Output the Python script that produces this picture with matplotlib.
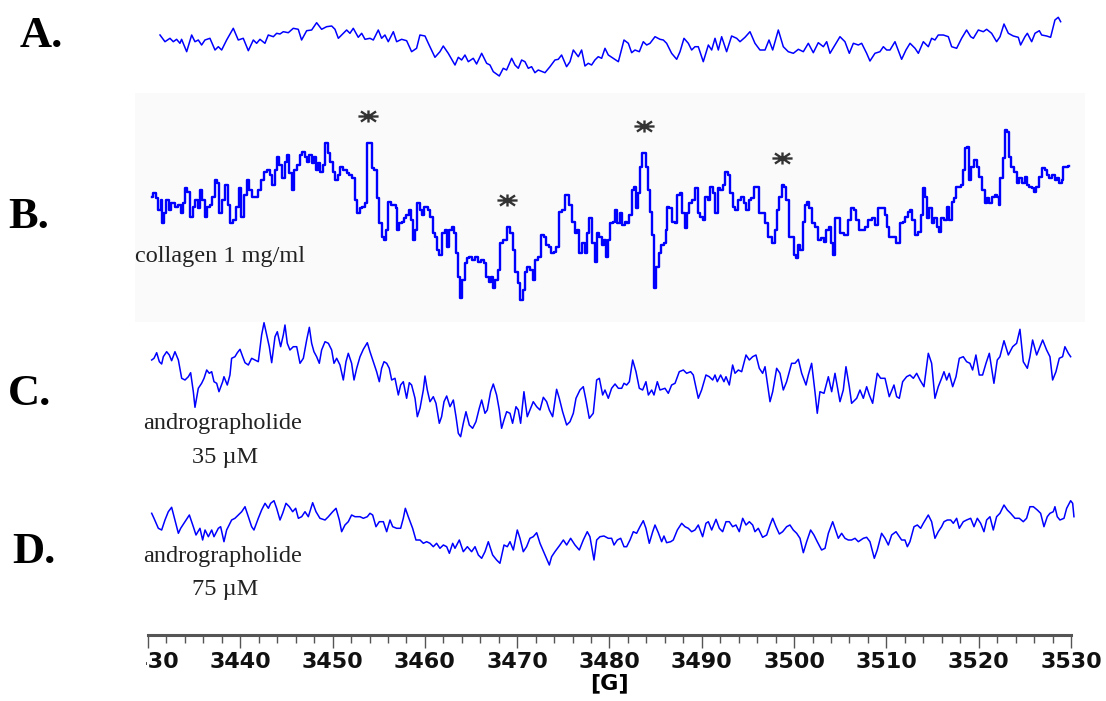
import numpy as np
import matplotlib.pyplot as plt
from matplotlib.patches import Rectangle
from matplotlib.path import Path

# magnetic field axis [G]
field_min, field_max = 3430, 3530
major_ticks = list(range(3430, 3531, 10))
tick_labels = [str(t) for t in major_ticks]
minor_ticks = list(range(3430, 3531, 2))

panel_labels = ["A.", "B.", "C.", "D."]
trace_notes = ["", "collagen 1 mg/ml", "andrographolide\n35 \u00b5M", "andrographolide\n75 \u00b5M"]

# A. resting platelets
field_a = [3431.30, 3431.84, 3432.38, 3432.74, 3433.10, 3433.46, 3433.64, 3434.19, 3434.73, 3435.09,
           3435.45, 3435.81, 3436.17, 3436.71, 3437.26, 3437.62, 3437.98, 3438.52, 3439.24, 3439.78,
           3440.32, 3440.87, 3441.41, 3441.77, 3442.13, 3442.67, 3443.03, 3443.58, 3443.94, 3444.30,
           3444.66, 3445.20, 3445.74, 3446.28, 3446.64, 3447.19, 3447.73, 3448.27, 3448.81, 3449.35,
           3449.90, 3450.26, 3450.62, 3451.16, 3451.52, 3451.88, 3452.24, 3452.78, 3453.15, 3453.51,
           3454.05, 3454.41, 3454.95, 3455.31, 3455.67, 3456.03, 3456.58, 3456.94, 3457.48, 3458.02,
           3458.56, 3459.10, 3459.46, 3460.01, 3460.37, 3461.09, 3461.63, 3461.99, 3462.53, 3463.26,
           3463.62, 3463.98, 3464.34, 3464.70, 3465.24, 3465.60, 3466.15, 3466.69, 3467.05, 3467.41,
           3468.06, 3468.49, 3468.85, 3469.40, 3469.76, 3470.12, 3470.48, 3470.84, 3471.20, 3471.56,
           3471.92, 3472.28, 3473.01, 3473.55, 3474.09, 3474.45, 3474.81, 3475.35, 3475.72, 3476.08,
           3476.62, 3476.98, 3477.34, 3477.70, 3478.06, 3478.42, 3478.78, 3479.15, 3479.51, 3479.87,
           3480.41, 3480.96, 3481.57, 3482.04, 3482.40, 3482.76, 3483.23, 3483.66, 3484.03, 3484.39,
           3484.93, 3485.47, 3485.83, 3486.19, 3486.73, 3487.28, 3487.64, 3488.07, 3488.54, 3488.90,
           3489.26, 3489.62, 3490.16, 3490.71, 3491.07, 3491.43, 3491.79, 3492.15, 3492.69, 3493.23,
           3493.78, 3494.14, 3494.68, 3495.22, 3495.76, 3496.30, 3496.85, 3497.28, 3497.68, 3498.29,
           3498.83, 3499.37, 3499.92, 3500.46, 3501.00, 3501.54, 3502.08, 3502.62, 3503.17, 3503.53,
           3503.89, 3504.43, 3504.97, 3505.51, 3505.98, 3506.42, 3506.96, 3507.32, 3507.86, 3508.22,
           3508.76, 3509.30, 3509.67, 3510.03, 3510.39, 3510.93, 3511.47, 3511.65, 3512.12, 3512.56,
           3513.10, 3513.46, 3514.00, 3514.54, 3514.90, 3515.26, 3515.62, 3516.17, 3516.71, 3517.07,
           3517.61, 3518.15, 3518.69, 3519.13, 3519.42, 3519.96, 3520.50, 3520.86, 3521.40, 3521.94,
           3522.31, 3522.74, 3523.21, 3523.75, 3524.29, 3524.54, 3525.01, 3525.27, 3525.74, 3526.10,
           3526.57, 3526.82, 3527.36, 3527.79, 3528.26, 3528.62, 3528.88]
signal_a = [15.0, 8.3, 11.7, 8.3, 10.7, 6.7, 10.7, -1.7, 15.0, 8.3,
            10.0, 5.0, 10.0, 11.7, 0.0, 3.3, 0.0, 10.0, 21.7, 10.0,
            11.7, -0.7, 10.0, 6.7, 10.7, 6.7, 15.0, 13.3, 16.7, 16.0,
            18.3, 17.3, 21.7, 20.7, 10.0, 19.3, 20.0, 27.3, 20.7, 23.3,
            24.0, 20.7, 11.7, 16.7, 20.0, 16.7, 21.7, 12.7, 16.7, 10.7,
            11.7, 10.0, 20.0, 11.7, 15.0, 8.3, 18.3, 8.3, 10.7, 9.3,
            -1.7, 1.7, 15.0, 14.0, 6.7, -7.3, -1.7, 4.0, -3.3, -15.0,
            -7.3, -10.0, -5.0, -11.7, -8.3, -14.0, -3.3, -13.3, -15.0, -21.7,
            -26.0, -18.3, -20.0, -8.3, -15.0, -18.3, -10.0, -11.7, -18.3, -16.7,
            -22.7, -20.0, -22.7, -16.7, -10.0, -9.3, -5.0, -16.7, -11.7, 0.0,
            -6.7, 0.0, -16.0, -13.3, -15.0, -10.0, -6.7, -8.3, 1.7, -5.0,
            -8.3, -11.7, 10.0, 6.7, -2.7, 0.0, -1.7, 8.3, 5.0, 6.7,
            13.3, 10.7, 10.0, 6.7, -3.3, -9.3, -1.7, 11.7, 6.7, 0.0,
            3.3, 3.3, -11.7, 5.0, 0.0, 11.7, 0.0, 13.3, -1.7, 14.0,
            11.7, 8.3, 12.7, 18.3, 6.7, 0.0, 0.0, 10.0, 0.0, 20.0,
            3.3, -1.7, -3.3, 0.7, -1.7, 6.7, -2.7, 7.3, 3.3, 8.3,
            -3.3, 5.0, 13.3, 8.3, -3.3, 6.7, 5.0, 6.7, -3.3, -11.0,
            -3.3, -1.7, 3.3, 0.0, 0.0, 8.3, -5.0, -9.3, 0.0, 6.7,
            1.7, -3.3, 8.3, 3.3, 11.7, 10.0, 15.0, 15.0, 13.3, 3.3,
            1.7, 11.7, 20.0, 13.3, 11.7, 20.0, 18.3, 20.7, 16.7, 8.3,
            13.3, 26.0, 16.7, 14.0, 12.7, 5.0, 13.3, 16.7, 8.3, 16.7,
            19.3, 15.0, 14.0, 12.7, 30.0, 32.7, 28.3]

# B. collagen 1 mg/ml
field_b = [3430.40, 3430.76, 3430.94, 3431.23, 3431.48, 3431.66, 3431.84, 3432.09, 3432.38, 3432.67,
           3433.11, 3433.47, 3433.65, 3433.90, 3434.12, 3434.37, 3434.73, 3434.98, 3435.27, 3435.56,
           3435.71, 3435.99, 3436.28, 3436.54, 3436.79, 3437.08, 3437.37, 3437.62, 3437.87, 3438.16,
           3438.52, 3438.81, 3439.06, 3439.42, 3439.68, 3439.97, 3440.26, 3440.51, 3440.87, 3441.12,
           3441.48, 3441.77, 3442.06, 3442.42, 3442.68, 3443.04, 3443.29, 3443.58, 3443.87, 3444.12,
           3444.37, 3444.66, 3444.95, 3445.20, 3445.46, 3445.74, 3445.93, 3446.29, 3446.54, 3446.83,
           3447.12, 3447.37, 3447.62, 3447.91, 3448.09, 3448.27, 3448.56, 3448.81, 3449.07, 3449.36,
           3449.64, 3449.90, 3450.15, 3450.44, 3450.73, 3450.98, 3451.34, 3451.70, 3451.96, 3452.24,
           3452.53, 3452.79, 3453.04, 3453.33, 3453.62, 3453.87, 3454.12, 3454.34, 3454.70, 3454.95,
           3455.21, 3455.50, 3455.68, 3455.93, 3456.15, 3456.40, 3456.76, 3456.94, 3457.12, 3457.37,
           3457.59, 3457.84, 3458.09, 3458.38, 3458.67, 3458.82, 3459.03, 3459.29, 3459.54, 3459.76,
           3460.01, 3460.19, 3460.48, 3460.73, 3460.98, 3461.20, 3461.45, 3461.71, 3462.00, 3462.28,
           3462.54, 3462.79, 3463.01, 3463.26, 3463.44, 3463.73, 3463.98, 3464.16, 3464.45, 3464.70,
           3464.96, 3465.25, 3465.61, 3465.97, 3466.26, 3466.51, 3466.76, 3467.05, 3467.34, 3467.48,
           3467.77, 3468.06, 3468.32, 3468.68, 3469.04, 3469.40, 3469.65, 3469.94, 3470.23, 3470.48,
           3470.73, 3470.95, 3471.20, 3471.56, 3471.82, 3472.03, 3472.40, 3472.76, 3473.01, 3473.26,
           3473.55, 3473.84, 3474.09, 3474.35, 3474.63, 3475.00, 3475.43, 3475.72, 3476.08, 3476.37,
           3476.62, 3476.87, 3477.16, 3477.45, 3477.70, 3477.96, 3478.24, 3478.53, 3478.79, 3479.04,
           3479.26, 3479.51, 3479.76, 3479.98, 3480.23, 3480.49, 3480.70, 3480.96, 3481.21, 3481.50,
           3481.79, 3482.04, 3482.29, 3482.58, 3482.80, 3483.01, 3483.23, 3483.48, 3483.66, 3483.85,
           3484.03, 3484.31, 3484.46, 3484.68, 3484.93, 3485.18, 3485.47, 3485.76, 3486.01, 3486.19,
           3486.37, 3486.63, 3486.91, 3487.20, 3487.46, 3487.71, 3488.00, 3488.29, 3488.54, 3488.79,
           3489.08, 3489.44, 3489.73, 3489.98, 3490.24, 3490.53, 3490.81, 3491.07, 3491.32, 3491.61,
           3491.90, 3492.15, 3492.40, 3492.69, 3492.98, 3493.23, 3493.49, 3493.78, 3494.06, 3494.43,
           3494.68, 3494.93, 3495.22, 3495.51, 3495.76, 3496.01, 3496.30, 3496.67, 3497.03, 3497.39,
           3497.75, 3498.04, 3498.29, 3498.54, 3498.76, 3499.01, 3499.26, 3499.55, 3499.84, 3500.10,
           3500.28, 3500.56, 3500.82, 3501.07, 3501.29, 3501.54, 3501.79, 3502.08, 3502.44, 3502.80,
           3503.09, 3503.35, 3503.60, 3503.89, 3504.14, 3504.36, 3504.61, 3504.90, 3505.15, 3505.69,
           3506.05, 3506.34, 3506.60, 3506.85, 3507.14, 3507.50, 3507.86, 3508.22, 3508.58, 3508.94,
           3509.30, 3509.67, 3509.95, 3510.21, 3510.46, 3510.82, 3511.29, 3511.65, 3511.90, 3512.19,
           3512.48, 3512.73, 3512.92, 3513.28, 3513.57, 3513.82, 3514.07, 3514.29, 3514.54, 3514.79,
           3515.01, 3515.37, 3515.62, 3515.80, 3516.09, 3516.45, 3516.71, 3516.96, 3517.18, 3517.43,
           3517.68, 3517.97, 3518.26, 3518.40, 3518.69, 3518.87, 3519.05, 3519.34, 3519.70, 3519.96,
           3520.21, 3520.50, 3520.79, 3521.04, 3521.29, 3521.58, 3521.87, 3522.12, 3522.23, 3522.48,
           3522.74, 3522.95, 3523.21, 3523.39, 3523.68, 3524.04, 3524.29, 3524.54, 3524.83, 3525.12,
           3525.37, 3525.63, 3525.92, 3526.10, 3526.35, 3526.64, 3527.00, 3527.29, 3527.54, 3527.79,
           3528.08, 3528.37, 3528.62, 3528.88, 3529.09, 3529.24, 3529.53, 3529.82]
signal_b = [17.7, 21.7, 16.7, 5.0, 15.0, -8.3, 1.7, 15.0, 5.0, 11.7,
            8.3, 10.0, 1.7, 11.7, 26.7, 23.3, -1.7, 8.3, 15.0, 6.7,
            25.0, 15.0, -1.7, 8.3, 10.0, 18.3, 35.0, 31.7, 1.7, 15.0,
            30.0, 10.0, -8.3, -5.0, 8.3, 26.7, -1.7, 20.0, 35.0, 25.0,
            18.3, 18.3, 25.0, 35.0, 43.3, 45.0, 40.0, 30.0, 45.0, 58.3,
            50.0, 36.7, 53.3, 60.0, 41.7, 25.0, 45.0, 50.0, 60.0, 63.3,
            58.3, 53.3, 60.0, 51.7, 58.3, 45.0, 51.7, 43.3, 50.0, 71.7,
            61.7, 53.3, 43.3, 35.0, 40.0, 48.3, 45.0, 41.7, 40.0, 36.7,
            15.0, 1.7, 6.7, 8.3, 11.7, 71.7, 71.7, 46.7, 45.0, 16.7,
            -8.3, -21.7, -25.0, -15.0, 13.3, 10.0, 10.0, 6.7, -15.0, -8.3,
            -6.7, -3.3, 0.0, 5.0, -5.0, -25.0, -15.0, 11.7, 5.0, 0.0,
            8.3, 8.3, 5.0, -1.7, -18.3, -21.7, -35.0, -40.0, -18.3, -15.0,
            -31.7, -15.0, -11.7, -18.3, -38.3, -61.7, -83.3, -65.0, -48.3, -43.3,
            -41.7, -45.0, -41.7, -46.7, -45.0, -48.3, -61.7, -66.7, -61.7, -73.3,
            -65.0, -55.0, -28.3, -25.0, -11.7, -18.3, -35.0, -56.7, -68.3, -85.0,
            -75.0, -56.7, -51.7, -55.0, -65.0, -45.0, -41.7, -20.0, -21.7, -30.0,
            -31.7, -38.3, -36.7, -31.7, 3.3, 5.0, 20.0, 10.0, -6.7, -18.3,
            -15.0, -38.3, -28.3, -38.3, -18.3, -3.3, -28.3, -46.7, -18.3, -21.7,
            -30.0, -25.0, -41.7, -25.0, -8.3, -6.7, 5.0, -8.3, 1.7, -10.0,
            -6.7, -8.3, 0.0, 25.0, 28.3, 6.7, 21.7, 48.3, 61.7, 61.7,
            48.3, 25.0, 3.3, -20.0, -73.3, -51.7, -38.3, -30.0, -28.3, -15.0,
            8.3, 6.7, -6.7, -8.3, 20.0, 21.7, 1.7, -13.3, 1.7, 11.7,
            15.0, 26.7, 1.7, -1.7, -5.0, 18.3, 15.0, 28.3, 21.7, 1.7,
            26.7, 25.0, 30.0, 43.3, 40.0, 21.7, 8.3, 5.0, 15.0, 18.3,
            11.7, 5.0, 15.0, 16.7, 28.3, 28.3, 1.7, 1.7, -8.3, -21.7,
            -28.3, -15.0, 5.0, 18.3, 30.0, 28.3, 15.0, -21.7, -21.7, -40.0,
            -43.3, -30.0, -35.0, -6.7, 10.0, 13.3, 6.7, -8.3, -11.7, -25.0,
            -23.3, -26.7, -15.0, -11.7, -28.3, -40.0, -3.3, -3.3, -18.3, -20.0,
            -5.0, 6.7, 5.0, -5.0, -15.0, -15.0, -11.7, -5.0, -3.3, -10.0,
            6.7, 6.7, 0.0, -11.7, -21.7, -21.7, -28.3, -8.3, -6.7, -1.7,
            3.3, 5.0, -5.0, -20.0, -16.7, 0.0, 26.7, 18.3, -3.3, 6.7,
            -8.3, -3.3, -11.7, -16.7, -3.3, -5.0, 8.3, -5.0, 13.3, 16.7,
            28.3, 28.3, 30.0, 45.0, 66.7, 68.3, 35.0, 48.3, 55.0, 48.3,
            38.3, 25.0, 11.7, 16.7, 11.7, 18.3, 20.0, 18.3, 10.0, 36.7,
            56.7, 85.0, 83.3, 58.3, 48.3, 43.3, 31.7, 36.7, 31.7, 38.3,
            30.0, 28.3, 26.7, 23.3, 28.3, 38.3, 46.7, 45.0, 40.0, 36.7,
            40.0, 35.0, 36.7, 31.7, 35.0, 48.3, 48.3, 49.0]
# peaks marked with an asterisk in trace B
star_fields = [3453.8, 3468.9, 3483.7, 3498.7]

# C. andrographolide 35 uM
field_c = [3430.40, 3430.65, 3430.94, 3431.23, 3431.48, 3431.66, 3432.02, 3432.31, 3432.56, 3432.92,
           3433.29, 3433.65, 3434.01, 3434.37, 3434.62, 3434.91, 3435.09, 3435.45, 3435.81, 3436.07,
           3436.36, 3436.64, 3436.90, 3437.15, 3437.44, 3437.69, 3438.09, 3438.23, 3438.59, 3438.88,
           3439.06, 3439.42, 3439.68, 3439.97, 3440.26, 3440.51, 3440.87, 3441.23, 3441.59, 3441.95,
           3442.31, 3442.57, 3442.86, 3443.14, 3443.40, 3443.76, 3444.01, 3444.37, 3444.66, 3444.84,
           3445.09, 3445.38, 3445.74, 3446.11, 3446.47, 3446.83, 3447.19, 3447.48, 3447.73, 3447.98,
           3448.27, 3448.56, 3448.81, 3449.18, 3449.54, 3449.90, 3450.15, 3450.44, 3450.80, 3451.16,
           3451.45, 3451.70, 3452.06, 3452.32, 3452.61, 3452.97, 3453.33, 3453.76, 3454.05, 3454.41,
           3454.77, 3455.06, 3455.31, 3455.57, 3455.86, 3456.14, 3456.40, 3456.76, 3457.12, 3457.37,
           3457.66, 3458.02, 3458.31, 3458.56, 3458.93, 3459.18, 3459.47, 3459.83, 3460.01, 3460.26,
           3460.55, 3460.91, 3461.20, 3461.56, 3461.81, 3462.07, 3462.36, 3462.72, 3463.08, 3463.37,
           3463.62, 3463.87, 3464.16, 3464.45, 3464.81, 3465.17, 3465.53, 3465.89, 3466.15, 3466.51,
           3466.76, 3467.12, 3467.41, 3467.77, 3468.06, 3468.31, 3468.57, 3468.86, 3469.22, 3469.50,
           3469.87, 3470.12, 3470.37, 3470.73, 3471.09, 3471.38, 3471.74, 3472.11, 3472.47, 3472.83,
           3473.19, 3473.48, 3473.84, 3474.27, 3474.56, 3474.92, 3475.36, 3475.72, 3476.08, 3476.37,
           3476.80, 3477.16, 3477.45, 3477.81, 3478.24, 3478.61, 3478.90, 3479.26, 3479.51, 3479.87,
           3480.23, 3480.60, 3480.96, 3481.32, 3481.57, 3481.86, 3482.15, 3482.51, 3482.87, 3483.23,
           3483.59, 3483.95, 3484.21, 3484.57, 3484.82, 3485.18, 3485.47, 3486.01, 3486.37, 3486.73,
           3487.10, 3487.56, 3488.00, 3488.36, 3488.79, 3489.08, 3489.62, 3489.98, 3490.45, 3490.81,
           3491.18, 3491.43, 3491.68, 3492.04, 3492.40, 3492.62, 3492.98, 3493.34, 3493.60, 3493.96,
           3494.32, 3494.79, 3495.15, 3495.51, 3495.87, 3496.23, 3496.59, 3496.85, 3497.39, 3497.68,
           3498.11, 3498.47, 3498.83, 3499.19, 3499.73, 3500.10, 3500.46, 3500.82, 3501.29, 3501.54,
           3501.90, 3502.26, 3502.51, 3502.80, 3503.24, 3503.71, 3504.07, 3504.43, 3504.97, 3505.33,
           3505.62, 3505.98, 3506.23, 3506.78, 3507.14, 3507.50, 3507.86, 3508.15, 3508.51, 3509.01,
           3509.38, 3509.85, 3510.31, 3510.82, 3511.11, 3511.40, 3511.76, 3512.19, 3512.55, 3512.92,
           3513.28, 3513.64, 3514.07, 3514.54, 3514.90, 3515.26, 3515.62, 3515.98, 3516.24, 3516.53,
           3516.81, 3517.18, 3517.54, 3517.90, 3518.33, 3518.69, 3519.05, 3519.34, 3519.70, 3520.06,
           3520.42, 3520.79, 3521.15, 3521.65, 3522.01, 3522.30, 3522.74, 3523.21, 3523.68, 3524.11,
           3524.47, 3524.83, 3525.27, 3525.55, 3525.84, 3526.28, 3526.64, 3526.93, 3527.36, 3527.72,
           3528.01, 3528.37, 3528.73, 3529.09, 3529.34, 3529.71, 3529.96]
signal_c = [25.0, 26.7, 32.3, 23.3, 21.0, 28.3, 33.3, 30.0, 24.3, 33.3,
            25.0, 6.7, 5.0, 8.3, 12.3, -6.7, -22.3, -3.3, 1.7, 6.7,
            15.0, 11.7, 13.3, 3.3, 1.7, -6.7, 3.3, 8.3, 0.0, 10.0,
            26.7, 28.3, 32.3, 35.7, 28.3, 22.3, 20.0, 26.7, 25.0, 23.3,
            50.0, 62.3, 50.0, 38.3, 22.3, 48.3, 53.3, 38.3, 50.0, 60.0,
            41.7, 35.0, 38.3, 38.3, 21.7, 26.7, 45.0, 57.7, 41.7, 33.3,
            28.3, 21.7, 35.0, 43.3, 41.7, 35.0, 21.7, 26.7, 20.0, 5.0,
            23.3, 31.7, 21.7, 5.0, 16.7, 28.3, 35.7, 42.3, 33.3, 23.3,
            13.3, 3.3, 16.7, 23.3, 21.7, 16.7, 5.0, 6.7, -10.0, 0.0,
            3.3, -13.3, 2.3, 0.0, -13.3, -31.7, -23.3, -5.0, 9.0, -5.0,
            -16.7, -11.7, -18.3, -38.3, -31.7, -16.7, -11.0, -21.7, -15.0, -31.7,
            -48.3, -51.7, -38.3, -26.7, -40.0, -43.3, -36.7, -23.3, -15.0, -28.3,
            -25.0, -6.7, 1.0, -10.0, -25.0, -43.3, -35.0, -26.7, -28.3, -38.3,
            -21.7, -25.0, -38.3, -6.7, -31.7, -25.0, -16.7, -21.7, -25.0, -12.3,
            -16.7, -25.0, -31.7, -4.3, -13.3, -26.7, -40.0, -36.7, -28.3, -13.3,
            -5.0, -1.7, -15.0, -33.3, -28.3, 5.0, 6.7, -10.0, -5.0, -13.3,
            -3.3, 1.0, -3.3, -3.3, 1.7, 0.0, 3.3, 25.0, 13.3, -3.3,
            -5.0, 3.3, -10.0, -5.0, -10.0, 3.3, -5.0, -3.3, -8.3, 0.0,
            1.7, 13.3, 15.0, 11.7, 13.3, 10.0, -13.3, -5.0, 10.0, 8.3,
            5.0, 10.0, 3.3, 10.0, 3.3, 8.3, 0.0, 20.0, 11.7, 15.0,
            13.3, 30.0, 25.0, 28.3, 30.0, 16.7, 11.7, 18.3, -16.7, -6.7,
            16.7, 11.7, -5.0, 3.3, 21.7, 21.7, 25.7, 11.7, 0.0, 10.0,
            21.7, -6.7, -28.3, -6.7, -8.3, 8.3, -6.7, 11.7, -16.7, -5.0,
            18.3, -1.7, -18.3, -13.3, -5.0, -13.3, -1.7, -10.0, -18.3, 11.7,
            6.7, 6.7, -11.7, 0.0, -11.7, -13.3, 3.3, 8.3, 10.0, 6.7,
            11.7, 5.0, -1.7, 31.7, 21.7, -13.3, -1.7, 6.7, 13.3, 5.0,
            11.7, -1.7, 8.3, 26.7, 28.3, 23.3, 21.7, 15.0, 30.0, 10.0,
            10.0, 21.7, 31.7, 1.7, 25.0, 28.3, 44.3, 30.0, 38.3, 41.7,
            55.7, 23.3, 16.7, 28.3, 45.0, 30.0, 38.3, 45.0, 35.0, 28.3,
            5.0, 13.3, 26.7, 28.3, 38.3, 31.7, 28.3]

# D. andrographolide 75 uM
field_d = [3430.40, 3430.65, 3431.12, 3431.48, 3431.84, 3432.20, 3432.56, 3432.92, 3433.29, 3433.54,
           3434.01, 3434.48, 3434.91, 3435.20, 3435.63, 3435.92, 3436.18, 3436.54, 3436.90, 3437.15,
           3437.62, 3437.87, 3438.23, 3438.52, 3439.06, 3439.42, 3439.79, 3440.15, 3440.51, 3440.87,
           3441.23, 3441.48, 3441.95, 3442.31, 3442.68, 3443.04, 3443.29, 3443.65, 3443.94, 3444.30,
           3444.59, 3444.95, 3445.31, 3445.67, 3446.00, 3446.29, 3446.65, 3447.01, 3447.37, 3447.84,
           3448.20, 3448.63, 3449.18, 3449.54, 3450.01, 3450.37, 3450.73, 3450.98, 3451.34, 3451.70,
           3452.06, 3452.43, 3452.97, 3453.33, 3453.76, 3454.05, 3454.34, 3454.70, 3455.06, 3455.50,
           3455.86, 3456.22, 3456.51, 3456.94, 3457.37, 3457.66, 3457.88, 3458.20, 3458.67, 3459.03,
           3459.47, 3459.83, 3460.19, 3460.55, 3460.91, 3461.27, 3461.63, 3462.00, 3462.36, 3462.65,
           3463.01, 3463.26, 3463.73, 3464.16, 3464.60, 3465.06, 3465.43, 3465.79, 3466.15, 3466.51,
           3466.87, 3467.34, 3467.77, 3468.13, 3468.57, 3468.93, 3469.22, 3469.58, 3470.01, 3470.30,
           3470.66, 3471.02, 3471.38, 3471.74, 3472.11, 3472.47, 3473.01, 3473.48, 3473.73, 3474.09,
           3474.63, 3475.00, 3475.36, 3475.79, 3476.26, 3476.73, 3477.16, 3477.59, 3477.88, 3478.32,
           3478.61, 3478.97, 3479.40, 3479.87, 3480.23, 3480.49, 3480.85, 3481.21, 3481.57, 3481.86,
           3482.22, 3482.58, 3482.94, 3483.30, 3483.66, 3483.95, 3484.31, 3484.68, 3484.93, 3485.29,
           3485.65, 3485.90, 3486.19, 3486.63, 3486.91, 3487.35, 3487.82, 3488.18, 3488.54, 3488.90,
           3489.26, 3489.62, 3490.09, 3490.45, 3490.71, 3491.07, 3491.54, 3491.90, 3492.26, 3492.62,
           3492.98, 3493.34, 3493.70, 3494.06, 3494.43, 3494.79, 3495.15, 3495.51, 3495.76, 3496.12,
           3496.59, 3497.03, 3497.39, 3497.68, 3498.04, 3498.40, 3498.76, 3499.19, 3499.55, 3499.91,
           3500.28, 3500.64, 3501.00, 3501.36, 3501.79, 3502.15, 3502.51, 3502.98, 3503.35, 3503.71,
           3504.18, 3504.54, 3504.79, 3505.15, 3505.51, 3505.87, 3506.23, 3506.60, 3506.96, 3507.50,
           3507.86, 3508.22, 3508.69, 3509.01, 3509.48, 3509.85, 3510.21, 3510.57, 3511.04, 3511.40,
           3511.65, 3512.01, 3512.27, 3512.55, 3512.99, 3513.35, 3513.71, 3514.00, 3514.54, 3514.90,
           3515.26, 3515.62, 3515.98, 3516.24, 3516.60, 3516.96, 3517.25, 3517.61, 3517.90, 3518.33,
           3518.69, 3519.13, 3519.49, 3519.85, 3520.21, 3520.57, 3520.86, 3521.22, 3521.58, 3521.94,
           3522.30, 3522.74, 3523.10, 3523.46, 3523.93, 3524.40, 3524.83, 3525.19, 3525.55, 3525.92,
           3526.35, 3526.71, 3527.07, 3527.43, 3527.72, 3528.08, 3528.26, 3528.51, 3528.80, 3529.24,
           3529.53, 3529.96, 3530.18, 3530.32]
signal_d = [16.7, 11.7, 1.7, 0.0, 10.0, 18.3, 22.7, 10.0, -3.3, 1.7,
            8.3, 15.0, 3.3, -5.0, 1.7, -10.0, 0.0, -6.7, 0.0, -6.7,
            1.7, 3.3, -11.7, 0.0, 10.0, 11.7, 15.0, 18.3, 23.3, 13.3,
            3.3, 0.0, 11.7, 20.0, 26.7, 21.7, 26.7, 29.3, 21.7, 10.0,
            16.7, 26.7, 23.3, 18.3, 21.7, 11.7, 13.3, 18.3, 13.3, 27.3,
            18.3, 11.7, 10.0, 13.3, 18.3, 21.7, 10.0, -1.7, 5.0, 8.3,
            15.0, 13.3, 13.3, 11.7, 13.3, 16.7, 15.0, 3.3, 8.3, 8.3,
            -1.7, 10.0, 3.3, 1.7, 1.7, 11.7, 21.7, 13.3, 1.7, -10.0,
            -10.0, -13.3, -11.7, -13.3, -16.7, -13.3, -18.3, -15.0, -16.7, -23.3,
            -13.3, -18.3, -10.0, -21.7, -16.7, -21.7, -16.7, -25.0, -28.3, -21.7,
            -11.7, -25.0, -30.0, -33.3, -15.0, -16.7, -11.7, -20.0, 0.0, -8.3,
            -21.7, -16.7, -8.3, -6.7, -2.7, -13.3, -25.0, -35.0, -26.7, -21.7,
            -15.0, -10.0, -15.0, -8.3, -15.0, -20.0, -10.0, -1.7, -6.7, -30.0,
            -10.0, -6.7, -6.0, -8.3, -8.3, -15.0, -10.0, -8.3, -16.7, -16.7,
            -10.0, -1.7, -3.3, 3.3, 9.3, 1.7, -13.3, -1.7, 5.0, -2.7,
            -11.7, -6.0, -12.7, -11.7, -10.0, 0.0, 6.7, 3.3, 1.7, -1.7,
            0.0, 5.0, -6.7, 6.7, 8.3, 0.0, 10.7, 1.7, -1.7, 8.3,
            8.3, 3.3, 5.0, -1.7, 11.7, 5.0, 8.3, 5.0, -1.7, 1.7,
            -7.3, -5.0, 5.0, 11.7, 3.3, -4.0, -1.7, 3.3, 5.0, 0.0,
            -3.3, -8.3, -22.7, -11.7, 0.0, -5.0, -11.7, -20.0, -18.3, -3.3,
            8.3, -1.7, -8.3, -3.3, -8.3, -10.0, -10.0, -8.3, -11.7, -8.3,
            -7.3, -11.7, -28.3, -20.0, -3.3, -8.3, -15.0, -5.0, -1.7, -6.7,
            -10.0, -10.0, -16.7, -11.7, 3.3, 5.0, 1.7, 6.7, 15.0, 8.3,
            -8.3, -1.7, 3.3, 8.3, 10.0, 10.0, 6.7, 11.7, 1.7, 8.3,
            10.0, 11.7, 3.3, 11.7, 6.7, -1.7, 10.0, 13.3, 0.0, 13.3,
            16.7, 25.0, 20.0, 16.7, 11.7, 11.7, 8.3, 11.7, 23.3, 23.3,
            20.0, 16.7, 3.3, 13.3, 16.7, 18.3, 23.3, 13.3, 10.0, 11.7,
            21.7, 29.3, 26.7, 13.3]

W, H = 1106, 701
fig = plt.figure(figsize=(W / 100, H / 100), dpi=100)
fig.patch.set_facecolor("white")


def px_rect(x0, y0, x1, y1):
    # pixel box (origin top-left) -> figure fraction [left, bottom, width, height]
    return [x0 / W, 1 - y1 / H, (x1 - x0) / W, (y1 - y0) / H]


X0, X1 = 148, 1071          # pixel span of 3430..3530 G
centres = [50, 215, 385, 530]
blue = "#0000ff"

# faint grey panel behind trace B
r = px_rect(135, 93, 1085, 322)
fig.add_artist(Rectangle((r[0], r[1]), r[2], r[3], transform=fig.transFigure,
                         facecolor="#fafafa", edgecolor="none", zorder=-1))

traces = [(field_a, signal_a), (field_b, signal_b), (field_c, signal_c), (field_d, signal_d)]
axes = []
for i, (f, s) in enumerate(traces):
    c = centres[i]
    ax = fig.add_axes(px_rect(X0, c - 100, X1, c + 100))
    ax.set_xlim(field_min, field_max)
    ax.set_ylim(-100, 100)
    ax.axis("off")
    if i == 1:
        ax.plot(f, s, color=blue, lw=1.7, drawstyle="steps-mid", clip_on=False)
    else:
        ax.plot(f, s, color=blue, lw=1.1, clip_on=False)
    axes.append(ax)

# flattened six-armed asterisk over the marked peaks of B
star = Path([(-1, 0), (1, 0), (-0.75, -0.5), (0.75, 0.5), (-0.75, 0.5), (0.75, -0.5),
             (0, -0.6), (0, 0.6)],
            [Path.MOVETO, Path.LINETO] * 4)
fb = np.array(field_b)
sb = np.array(signal_b)
star_y = [sb[np.abs(fb - f0) < 0.4].max() + 27 for f0 in star_fields]
axes[1].plot(star_fields, star_y, ls="none", marker=star, ms=14.5, mew=1.7,
             color="#333333", clip_on=False)

# panel letters and sample notes
letter_pos = [(20, 47), (8, 228), (8, 405), (12, 563)]
for lab, (x, y) in zip(panel_labels, letter_pos):
    fig.text(x / W, 1 - y / H, lab, fontsize=32, fontweight="bold",
             family="Liberation Serif", va="baseline", ha="left")

note_style = dict(fontsize=17.5, family="Liberation Serif", va="baseline", color="#222222")
fig.text(135 / W, 1 - 262 / H, trace_notes[1], ha="left", **note_style)
for note, (xc, y1, y2) in zip(trace_notes[2:], [(223, 429, 463), (223, 562, 595)]):
    top, bottom = note.split("\n")
    fig.text(xc / W, 1 - y1 / H, top, ha="center", **note_style)
    fig.text((xc + 2) / W, 1 - y2 / H, bottom, ha="center", **note_style)

# field axis
axx = fig.add_axes(px_rect(X0, 600, X1, 635))
axx.set_xlim(field_min, field_max)
axx.patch.set_alpha(0)
axx.set_yticks([])
for side in ["top", "left", "right"]:
    axx.spines[side].set_visible(False)
axx.spines["bottom"].set_color("#555555")
axx.spines["bottom"].set_linewidth(2.2)
axx.set_xticks(major_ticks, tick_labels)
axx.set_xticks(minor_ticks, minor=True)
axx.tick_params(which="major", direction="out", length=9, width=1, color="#555555", pad=3)
axx.tick_params(which="minor", direction="out", length=6, width=1, color="#555555")
for t in axx.get_xticklabels():
    t.set_fontfamily("DejaVu Sans")
    t.set_fontsize(16)
    t.set_fontweight("bold")
    t.set_color("#111111")
axx.set_xlabel("[G]", fontsize=16, fontweight="bold", family="DejaVu Sans", labelpad=1)

# the original image is cut at the left edge through the first tick label
r = px_rect(0, 645, 146, 680)
fig.add_artist(Rectangle((r[0], r[1]), r[2], r[3], transform=fig.transFigure,
                         facecolor="white", edgecolor="none", zorder=5))

fig.savefig("out.png", dpi=100)
